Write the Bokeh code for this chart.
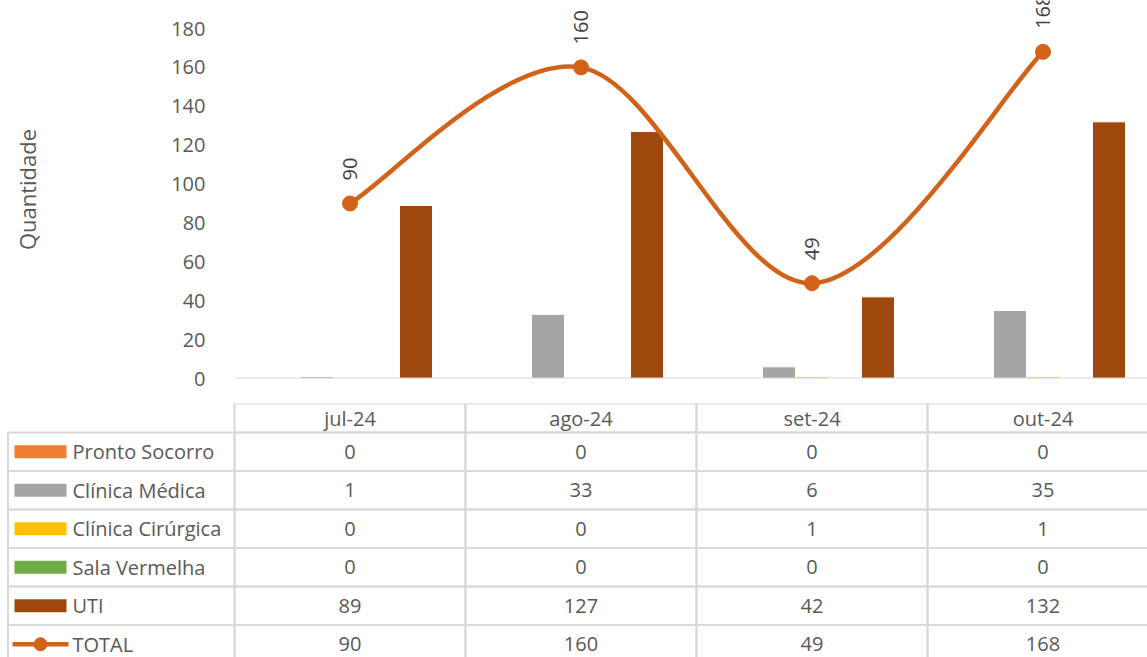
import numpy as np
from bokeh.plotting import figure
from bokeh.layouts import column, row
from bokeh.models import Range1d, FixedTicker, Span, ColumnDataSource, LabelSet
from bokeh.core.properties import value
from bokeh.embed import file_html
from bokeh.resources import INLINE

# ---------------- data ----------------
categories = ["jul-24", "ago-24", "set-24", "out-24"]
series_names = ["Pronto Socorro", "Clínica Médica", "Clínica Cirúrgica", "Sala Vermelha", "UTI"]
pronto_socorro = [0, 0, 0, 0]
clinica_medica = [1, 33, 6, 35]
clinica_cirurgica = [0, 0, 1, 1]
sala_vermelha = [0, 0, 0, 0]
uti = [89, 127, 42, 132]
total_name = "TOTAL"
total = [90, 160, 49, 168]
y_ticks = [0, 20, 40, 60, 80, 100, 120, 140, 160, 180]
y_title = "Quantidade"

series_values = [pronto_socorro, clinica_medica, clinica_cirurgica, sala_vermelha, uti]

# ---------------- styles / layout ----------------
bar_colors = ["#ED7D31", "#A5A5A5", "#FFC000", "#70AD47", "#9E480E"]
line_col = "#D26217"
text_col = "#595959"
label_col = "#404040"
grid_col = "#D9D9D9"
FONT = "Open Sans"

COL_PX = 231.0          # pixels per category column
FIG_W = 1147
TOP_H = 403
TAB_H = 254
LEFT = 234              # plot frame left border (px)
FRAME_H = 378
Y_PX_PER_UNIT = 350.0 / 180.0
ROW_PX = 38.5
HEAD_PX = 29.0

n_cat = len(categories)
centers = np.arange(n_cat) + 0.5
x_end = (FIG_W - LEFT) / COL_PX

# ---------------- top chart ----------------
p = figure(width=FIG_W, height=TOP_H, output_backend="svg", toolbar_location=None,
           x_range=Range1d(0, x_end), y_range=Range1d(0, FRAME_H / Y_PX_PER_UNIT),
           x_axis_location=None, min_border_left=LEFT, min_border_right=0,
           min_border_top=0, min_border_bottom=TOP_H - FRAME_H,
           outline_line_color=None, background_fill_color="white")
p.grid.grid_line_color = None

n_ser = len(series_names)
slot = 1.0 / 7.0
for k, vals in enumerate(series_values):
    p.vbar(x=centers + (k - (n_ser - 1) / 2) * slot, top=vals, bottom=0, width=slot,
           fill_color=bar_colors[k], line_color="white", line_width=1)

p.add_layout(Span(location=0, dimension="width", line_color=grid_col, line_width=2))

# smoothed line (Excel-style Bezier through the data points)
px = list(centers)
py = list(total)
x0, y0, x1, y1, cx0, cy0, cx1, cy1 = [], [], [], [], [], [], [], []
for i in range(n_cat - 1):
    im1 = max(i - 1, 0)
    ip2 = min(i + 2, n_cat - 1)
    x0.append(px[i]); y0.append(py[i])
    x1.append(px[i + 1]); y1.append(py[i + 1])
    cx0.append(px[i] + (px[i + 1] - px[im1]) / 6.0)
    cy0.append(py[i] + (py[i + 1] - py[im1]) / 6.0)
    cx1.append(px[i + 1] - (px[ip2] - px[i]) / 6.0)
    cy1.append(py[i + 1] - (py[ip2] - py[i]) / 6.0)
p.bezier(x0=x0, y0=y0, x1=x1, y1=y1, cx0=cx0, cy0=cy0, cx1=cx1, cy1=cy1,
         line_color=line_col, line_width=4.5)
p.scatter(x=centers, y=total, size=15, fill_color=line_col, line_color=line_col)

lab_src = ColumnDataSource(dict(x=centers, y=total, t=[str(v) for v in total]))
p.add_layout(LabelSet(x="x", y="y", text="t", source=lab_src, angle=np.pi / 2,
                      y_offset=23, text_align="left", text_baseline="middle",
                      text_font=value(FONT), text_font_size=value("20px"),
                      text_color=label_col))

ya = p.yaxis[0]
ya.ticker = FixedTicker(ticks=y_ticks)
ya.axis_line_color = None
ya.major_tick_line_color = None
ya.minor_tick_line_color = None
ya.major_tick_in = 0
ya.major_tick_out = 0
ya.minor_tick_in = 0
ya.minor_tick_out = 0
ya.major_label_standoff = 29
ya.major_label_text_font = FONT
ya.major_label_text_font_size = "20px"
ya.major_label_text_color = text_col
ya.axis_label = y_title
ya.axis_label_text_font = FONT
ya.axis_label_text_font_size = "22px"
ya.axis_label_text_font_style = "normal"
ya.axis_label_text_color = text_col
ya.axis_label_standoff = 126

# ---------------- data table ----------------
x_start = -LEFT / COL_PX
head_h = HEAD_PX / ROW_PX
t = figure(width=FIG_W, height=TAB_H, output_backend="svg", toolbar_location=None,
           x_range=Range1d(x_start, x_end), y_range=Range1d(TAB_H / ROW_PX, 0),
           x_axis_location=None, y_axis_location=None,
           min_border_left=0, min_border_right=0, min_border_top=0, min_border_bottom=0,
           outline_line_color=None, background_fill_color="white")
t.grid.grid_line_color = None

# header
t.rect(x=centers, y=[head_h / 2] * n_cat, width=1, height=head_h,
       fill_color=None, line_color=grid_col, line_width=2)
t.text(x=centers, y=[head_h / 2] * n_cat, text=categories, text_align="center",
       text_baseline="middle", text_font=value(FONT), text_font_size=value("20px"),
       text_color=text_col)

row_names = series_names + [total_name]
row_vals = series_values + [total]
n_rows = len(row_names)
row_c = head_h + np.arange(n_rows) + 0.5


def px2x(page_x):
    return (page_x - LEFT) / COL_PX


# label column
lab_left = px2x(7.5)
lab_w = -lab_left
t.rect(x=[lab_left / 2] * n_rows, y=row_c, width=lab_w, height=1,
       fill_color=None, line_color=grid_col, line_width=2)

# value cells
cx_all, cy_all, ct_all = [], [], []
for r in range(n_rows):
    for c in range(n_cat):
        cx_all.append(centers[c]); cy_all.append(row_c[r]); ct_all.append(str(row_vals[r][c]))
t.rect(x=cx_all, y=cy_all, width=1, height=1, fill_color=None,
       line_color=grid_col, line_width=2)
t.text(x=cx_all, y=cy_all, text=ct_all, text_align="center", text_baseline="middle",
       text_font=value(FONT), text_font_size=value("20px"), text_color=text_col)

# legend keys
sw_c = px2x(40)
t.rect(x=[sw_c] * n_ser, y=row_c[:n_ser], width=52 / COL_PX, height=13 / ROW_PX,
       fill_color=bar_colors, line_color=None)
t.segment(x0=[px2x(12)], y0=[row_c[-1]], x1=[px2x(68)], y1=[row_c[-1]],
          line_color=line_col, line_width=4.5)
t.scatter(x=[sw_c], y=[row_c[-1]], size=13, fill_color=line_col, line_color=line_col)
t.text(x=[px2x(72)] * n_rows, y=row_c, text=row_names, text_align="left",
       text_baseline="middle", text_font=value(FONT), text_font_size=value("20px"),
       text_color=text_col)

layout = column(row(p), row(t), spacing=0)
open("out.html", "w").write(file_html(layout, INLINE))
